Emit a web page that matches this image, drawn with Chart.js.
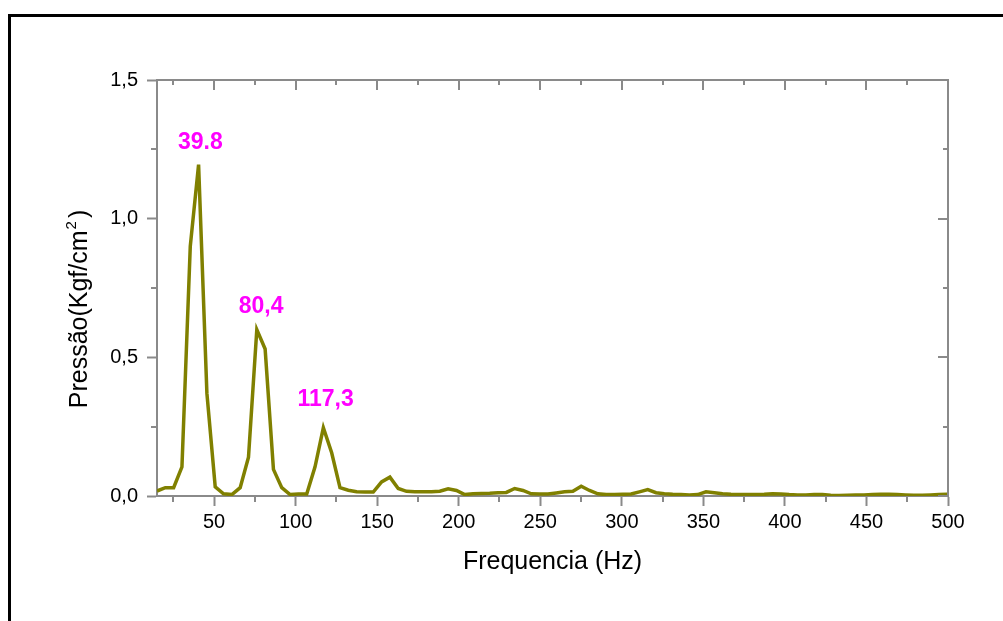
<!DOCTYPE html>
<html>
<head>
<meta charset="utf-8">
<script src="https://cdn.jsdelivr.net/npm/chart.js@4.4.0/dist/chart.umd.min.js"></script>
<style>
  html, body { margin: 0; padding: 0; background: #fff; }
  canvas { display: block; }
</style>
</head>
<body>
<canvas id="graficoPressao" width="1003" height="621"></canvas>
<script>
// Frequências (Hz)
const freqs = [
  15.0, 20.1, 25.2, 30.3, 35.4, 40.5, 45.6, 50.7, 55.8, 60.9,
  66.0, 71.1, 76.2, 81.3, 86.4, 91.5, 96.6, 101.7, 106.8, 111.9,
  117.0, 122.1, 127.2, 132.3, 137.4, 142.5, 147.6, 152.7, 157.8, 162.9,
  168.0, 173.1, 178.2, 183.3, 188.4, 193.5, 198.6, 203.7, 208.8, 213.9,
  219.0, 224.1, 229.2, 234.3, 239.4, 244.5, 249.6, 254.7, 259.8, 264.9,
  270.0, 275.1, 280.2, 285.3, 290.4, 295.5, 300.6, 305.7, 310.8, 315.9,
  321.0, 326.1, 331.2, 336.3, 341.4, 346.5, 351.6, 356.7, 361.8, 366.9,
  372.0, 377.1, 382.2, 387.3, 392.4, 397.5, 402.6, 407.7, 412.8, 417.9,
  423.0, 428.1, 433.2, 438.3, 443.4, 448.5, 453.6, 458.7, 463.8, 468.9,
  474.0, 479.1, 484.2, 489.3, 494.4, 499.5
];

// Pressão (Kgf/cm2)
const pressao = [
  0.018, 0.030, 0.030, 0.105, 0.900, 1.195, 0.370, 0.033, 0.008, 0.005,
  0.030, 0.140, 0.600, 0.530, 0.096, 0.030, 0.005, 0.007, 0.007, 0.105,
  0.246, 0.156, 0.030, 0.021, 0.015, 0.014, 0.014, 0.051, 0.068, 0.027,
  0.017, 0.015, 0.015, 0.015, 0.017, 0.026, 0.020, 0.005, 0.008, 0.009,
  0.010, 0.012, 0.013, 0.027, 0.020, 0.008, 0.007, 0.007, 0.011, 0.015,
  0.017, 0.035, 0.020, 0.008, 0.005, 0.005, 0.006, 0.007, 0.015, 0.023,
  0.012, 0.008, 0.006, 0.005, 0.004, 0.005, 0.015, 0.012, 0.008, 0.006,
  0.005, 0.005, 0.005, 0.006, 0.008, 0.007, 0.005, 0.004, 0.004, 0.005,
  0.005, 0.003, 0.002, 0.003, 0.004, 0.004, 0.005, 0.006, 0.006, 0.005,
  0.004, 0.003, 0.003, 0.004, 0.005, 0.006
];

const xTicks = [50, 100, 150, 200, 250, 300, 350, 400, 450, 500];
const xMinorTicks = [25, 75, 125, 175, 225, 275, 325, 375, 425, 475];
const yTicks = [0, 0.5, 1.0, 1.5];
const yMinorTicks = [0.25, 0.75, 1.25];

// Rótulos dos picos
const picoTexto = ['39.8', '80,4', '117,3'];
const picoX = [41.6, 78.8, 118.4];
const picoY = [1.275, 0.683, 0.348];

const cinza = '#8a8a8a';
const fonte = '"Liberation Sans", Arial, sans-serif';
Chart.defaults.font.family = fonte;
Chart.defaults.color = '#000';

const molduraPlugin = {
  id: 'moldura',
  beforeDraw(chart) {
    const ctx = chart.ctx;
    ctx.save();
    ctx.strokeStyle = '#000';
    ctx.lineWidth = 3;
    ctx.beginPath();
    ctx.moveTo(9.5, chart.height + 5);
    ctx.lineTo(9.5, 15.5);
    ctx.lineTo(chart.width + 5, 15.5);
    ctx.stroke();
    ctx.restore();
  },
  afterDraw(chart) {
    const { ctx, chartArea: a, scales: { x, y } } = chart;
    ctx.save();
    ctx.strokeStyle = cinza;
    ctx.lineWidth = 2;
    ctx.beginPath();
    // topo e direita
    ctx.moveTo(a.left, a.top);
    ctx.lineTo(a.right, a.top);
    ctx.lineTo(a.right, a.bottom);
    // ticks do topo (para dentro)
    xTicks.forEach(v => {
      const px = Math.round(x.getPixelForValue(v));
      ctx.moveTo(px, a.top); ctx.lineTo(px, a.top + 10);
    });
    xMinorTicks.forEach(v => {
      const px = Math.round(x.getPixelForValue(v));
      ctx.moveTo(px, a.top); ctx.lineTo(px, a.top + 5);
      // ticks menores em baixo (para fora)
      ctx.moveTo(px, a.bottom); ctx.lineTo(px, a.bottom + 6);
    });
    // ticks da direita (para dentro)
    yTicks.forEach(v => {
      const py = Math.round(y.getPixelForValue(v));
      ctx.moveTo(a.right, py); ctx.lineTo(a.right - 10, py);
    });
    yMinorTicks.forEach(v => {
      const py = Math.round(y.getPixelForValue(v));
      ctx.moveTo(a.right, py); ctx.lineTo(a.right - 5, py);
      ctx.moveTo(a.left, py); ctx.lineTo(a.left - 6, py);
    });
    ctx.stroke();

    // rótulos dos picos
    ctx.fillStyle = '#ff00ff';
    ctx.font = 'bold 23px ' + fonte;
    ctx.textAlign = 'center';
    ctx.textBaseline = 'middle';
    picoTexto.forEach((t, i) => {
      ctx.fillText(t, x.getPixelForValue(picoX[i]), y.getPixelForValue(picoY[i]));
    });

    // título do eixo Y com expoente
    const principal = 'Pressão(Kgf/cm';
    ctx.fillStyle = '#000';
    ctx.textAlign = 'left';
    ctx.textBaseline = 'alphabetic';
    ctx.font = '25px ' + fonte;
    const w1 = ctx.measureText(principal).width;
    const w3 = ctx.measureText(')').width;
    ctx.font = '15px ' + fonte;
    const w2 = ctx.measureText('2').width + 4;
    const total = w1 + w2 + w3;
    ctx.translate(87, 309);
    ctx.rotate(-Math.PI / 2);
    ctx.font = '25px ' + fonte;
    ctx.fillText(principal, -total / 2, 0);
    ctx.font = '15px ' + fonte;
    ctx.fillText('2', -total / 2 + w1 + 1, -11);
    ctx.font = '25px ' + fonte;
    ctx.fillText(')', -total / 2 + w1 + w2, 0);
    ctx.restore();
  }
};

new Chart(document.getElementById('graficoPressao').getContext('2d'), {
  type: 'line',
  data: {
    datasets: [{
      label: 'Pressão',
      data: freqs.map((f, i) => ({ x: f, y: pressao[i] })),
      borderColor: '#808000',
      backgroundColor: '#808000',
      borderWidth: 3.5,
      pointRadius: 0,
      tension: 0,
      fill: false
    }]
  },
  options: {
    responsive: false,
    animation: false,
    devicePixelRatio: 1,
    layout: { padding: { top: 80, right: 55, left: 0, bottom: 0 } },
    plugins: {
      legend: { display: false },
      tooltip: { enabled: false }
    },
    scales: {
      x: {
        type: 'linear',
        min: 15,
        max: 500,
        afterBuildTicks: s => { s.ticks = xTicks.map(v => ({ value: v })); },
        afterFit: s => { s.height = 125; },
        grid: {
          drawOnChartArea: false,
          drawTicks: true,
          tickLength: 10,
          tickWidth: 2,
          color: cinza
        },
        border: { display: true, color: cinza, width: 2 },
        ticks: { font: { size: 20 }, padding: 4, maxRotation: 0, callback: v => String(v) },
        title: {
          display: true,
          text: 'Frequencia (Hz)',
          font: { size: 25 },
          padding: { top: 0, bottom: 44 }
        }
      },
      y: {
        min: 0,
        max: 1.5,
        afterBuildTicks: s => { s.ticks = yTicks.map(v => ({ value: v })); },
        afterFit: s => { s.width = 157; },
        grid: {
          drawOnChartArea: false,
          drawTicks: true,
          tickLength: 10,
          tickWidth: 2,
          color: cinza
        },
        border: { display: true, color: cinza, width: 2 },
        ticks: { font: { size: 20 }, padding: 9, callback: v => v.toFixed(1).replace('.', ',') }
      }
    }
  },
  plugins: [molduraPlugin]
});
</script>
</body>
</html>
